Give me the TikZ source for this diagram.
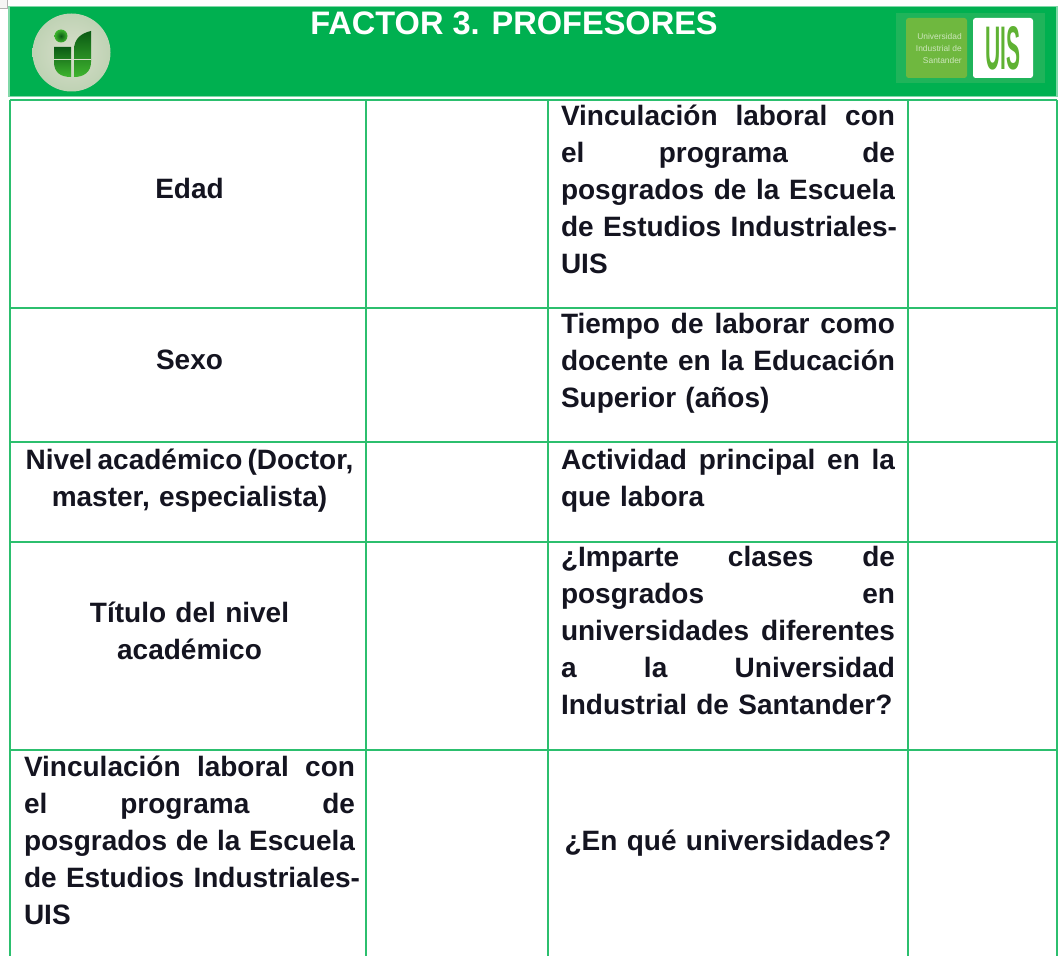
\documentclass[tikz,border=0pt]{standalone}
\usepackage{fontspec}
\setmainfont{Liberation Sans}
\definecolor{hdr}{HTML}{00B050}
\definecolor{tablerule}{HTML}{2CBF6E}
\definecolor{ink}{HTML}{141420}
\definecolor{panel}{HTML}{1FB45A}
\definecolor{lime}{HTML}{6FB83F}
\definecolor{uisg}{HTML}{5FB233}
\definecolor{discin}{HTML}{D8DFCB}
\definecolor{discout}{HTML}{BFD2B4}
\definecolor{leafdark}{HTML}{0B5A14}
\definecolor{leaflight}{HTML}{3FB52F}
\newcommand{\jl}[1]{\leavevmode\hbox to \linewidth{\strut#1}\par}
\newcommand{\pl}[1]{\leavevmode\hbox{\strut#1}\par}
\newcommand{\cl}[1]{\leavevmode\hbox to \linewidth{\strut\hfil#1\hfil}\par}
\tikzset{
  tline/.style={draw=tablerule,line width=1.5pt},
  cell/.style={font=\fontsize{21}{27.75}\selectfont\bfseries,text=ink,inner sep=0pt,align=left},
  cellL/.style={cell,text width=248.25pt},
  cellR/.style={cell,text width=250.5pt},
}
\begin{document}
\begin{tikzpicture}[x=0.75pt,y=-0.75pt]
\useasboundingbox (0,0) rectangle (1060,956);
\fill[white] (0,0) rectangle (1060,956);
% corner handle
\draw[gray!60,fill=gray!8,line width=.6pt] (-2,-2) rectangle (7,8);
% header
\fill[tablerule!60] (8,6) rectangle (1058,97);
\fill[hdr] (9.5,7) rectangle (1056,96);
% table rules
\draw[tline] (9.5,100.5) -- (1056.5,100.5);
\foreach \yy in {307.5,441.5,541.5,749.5}{\draw[tline] (9.5,\yy) -- (1056.5,\yy);}
\foreach \xx in {9.5,366,548,908,1056.5}{\draw[tline] (\xx,100) -- (\xx,956);}
% title
\node[font=\fontsize{24.4}{28}\selectfont\bfseries,text=white,inner sep=0pt] (title) at (514,23) {FACTOR 3. PROFESORES};
% left logo
\shade[inner color=discin, outer color=discout] (71.5,52.5) circle (39);
\shade[inner color=leafdark, outer color=leaflight] (61,36) circle (6.5);
\shade[top color=leafdark, bottom color=leaflight]
  (54,47) -- (71,47) -- (71,77) .. controls (60,77) and (54,72) .. (54,62) -- cycle;
\shade[top color=leafdark, bottom color=leaflight]
  (74,77) -- (74,50) .. controls (74,38) and (82,33) .. (91,31) -- (91,62) .. controls (91,72) and (84,77) .. (74,77) -- cycle;
\draw[discin,line width=1pt] (54,59.5) -- (91,59.5);
% right logo
\fill[panel] (896,13) rectangle (1045,83);
\fill[lime,rounded corners=2pt] (906,18) rectangle (967,78);
\fill[white,rounded corners=2pt] (973,18) rectangle (1033,78);
\node[font=\fontsize{6.3}{9}\selectfont,text=white!65!lime,align=right,inner sep=0pt,anchor=east] (univ) at (962,48) {Universidad\\Industrial de\\Santander};
\node[font=\fontsize{21}{21}\selectfont\bfseries,text=uisg,inner sep=0pt,xscale=.75,yscale=2.2] (uis) at (1003,48.5) {UIS};
% left column
\node[cellL] (edad) at (189.5,191.5) {\cl{Edad}};
\node[cellL] (sexo) at (189.5,362.5) {\cl{Sexo}};
\node[cellL] (nivel) at (189.5,481) {\cl{\spaceskip=3.9pt Nivel académico (Doctor,}\cl{master, especialista)}};
\node[cellL] (titulo) at (189.5,634) {\cl{Título del nivel}\cl{académico}};
\node[cellL] (vincL) at (189.5,843) {\jl{Vinculación\hfill laboral\hfill con}\jl{el\hfill programa\hfill de}\jl{posgrados\hfill de\hfill la\hfill Escuela}\pl{de Estudios Industriales-}\pl{UIS}};
% right column
\node[cellR] (vincR) at (728,192) {\jl{Vinculación\hfill laboral\hfill con}\jl{el\hfill programa\hfill de}\jl{posgrados\hfill de\hfill la\hfill Escuela}\pl{de Estudios Industriales-}\pl{UIS}};
\node[cellR] (tiempo) at (728,363) {\jl{Tiempo\hfill de\hfill laborar\hfill como}\jl{docente\hfill en\hfill la\hfill Educación}\pl{Superior (años)}};
\node[cellR] (activ) at (728,481) {\jl{Actividad\hfill principal\hfill en\hfill la}\pl{que labora}};
\node[cellR] (imparte) at (728,633) {\jl{¿Imparte\hfill clases\hfill de}\jl{posgrados\hfill en}\jl{universidades\hfill diferentes}\jl{a\hfill la\hfill Universidad}\pl{Industrial de Santander?}};
\node[cellR] (enque) at (728,843) {\cl{¿En qué universidades?}};
\end{tikzpicture}
\end{document}
